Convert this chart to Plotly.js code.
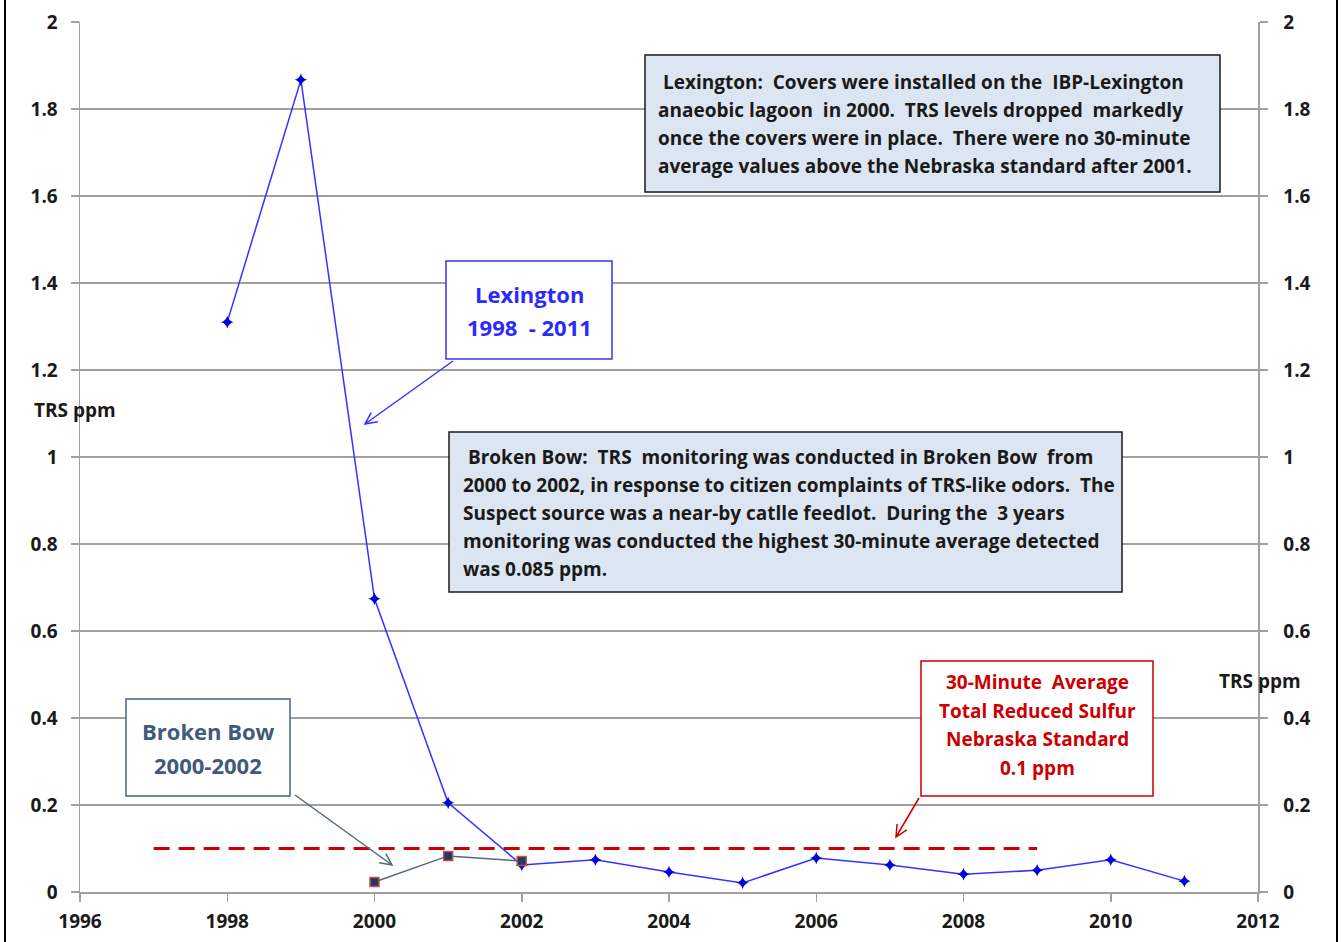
<!DOCTYPE html>
<html>
<head>
<meta charset="utf-8">
<script src="https://cdn.plot.ly/plotly-3.0.1.min.js"></script>
<style>html,body{margin:0;padding:0;background:#fff;}#chart{width:1341px;height:942px;}</style>
</head>
<body>
<div id="chart"></div>
<script>
// ---- data ----
const lexYears = [1998,1999,2000,2001,2002,2003,2004,2005,2006,2007,2008,2009,2010,2011];
const lexTRS   = [1.310,1.867,0.674,0.205,0.062,0.074,0.046,0.021,0.078,0.062,0.041,0.050,0.074,0.025];
const bbYears  = [2000,2001,2002];
const bbTRS    = [0.023,0.083,0.071];
const stdYears = [1997,2009];
const stdTRS   = [0.1,0.1];
const xTicks   = [1996,1998,2000,2002,2004,2006,2008,2010,2012];
const yTicks   = [0,0.2,0.4,0.6,0.8,1,1.2,1.4,1.6,1.8,2];

// ---- layout geometry helpers (pixel -> paper) ----
const W=1341,H=942,L=80,R=83,T=22,B=50;
const PW=W-L-R, PH=H-T-B;
const px=v=>(v-L)/PW, py=v=>(H-B-v)/PH;

const FONT='"Open Sans", Lato, sans-serif';
const shapes=[], annotations=[];

function box(x0,y0,x1,y1,fill,line){
  shapes.push({type:'rect',xref:'paper',yref:'paper',x0:px(x0),x1:px(x1),y0:py(y1),y1:py(y0),
    fillcolor:fill,line:{color:line,width:1.5},layer:'above'});
}
function txt(x,y,t,size,color,anchor){
  annotations.push({xref:'paper',yref:'paper',x:px(x),y:py(y),text:t,showarrow:false,
    xanchor:anchor||'left',yanchor:'middle',font:{family:FONT,size:size,color:color,weight:'bold'}});
}
function arrow(tx,ty,hx,hy,color){
  const ang=Math.atan2(ty-hy,tx-hx), len=13, spread=0.45;
  const a1=[hx+len*Math.cos(ang+spread),hy+len*Math.sin(ang+spread)];
  const a2=[hx+len*Math.cos(ang-spread),hy+len*Math.sin(ang-spread)];
  const P=(x,y)=>px(x)+','+py(y);
  shapes.push({type:'path',xref:'paper',yref:'paper',layer:'above',line:{color:color,width:1.5},
    path:'M'+P(tx,ty)+' L'+P(hx,hy)+' M'+P(a1[0],a1[1])+' L'+P(hx,hy)+' L'+P(a2[0],a2[1])});
}

// outer frame lines
shapes.push({type:'line',xref:'paper',yref:'paper',x0:px(5),x1:px(5),y0:py(942),y1:py(0),line:{color:'#000',width:2}});
shapes.push({type:'line',xref:'paper',yref:'paper',x0:px(1337),x1:px(1337),y0:py(942),y1:py(0),line:{color:'#000',width:2}});

// Covers text box
box(645,55,1220,192,'#dce6f2','#1a1a1a');
const coverLines=[' Lexington:  Covers were installed on the  IBP-Lexington',
 'anaeobic lagoon  in 2000.  TRS levels dropped  markedly',
 'once the covers were in place.  There were no 30-minute',
 'average values above the Nebraska standard after 2001.'];
coverLines.forEach((s,i)=>txt(656,82+28*i,s,19,'#1a1a1a'));

// Broken Bow description box
box(449,432,1122,592,'#dce6f2','#1a1a1a');
const bbLines=[' Broken Bow:  TRS  monitoring was conducted in Broken Bow  from',
 '2000 to 2002, in response to citizen complaints of TRS-like odors.  The',
 'Suspect source was a near-by catlle feedlot.  During the  3 years',
 'monitoring was conducted the highest 30-minute average detected',
 'was 0.085 ppm.'];
bbLines.forEach((s,i)=>txt(461,457+28*i,s,19,'#1a1a1a'));

// Red standard box
box(921,661,1153,796,'#ffffff','#cc0000');
['30-Minute  Average','Total Reduced Sulfur','Nebraska Standard','0.1 ppm']
  .forEach((s,i)=>txt(1037,682+28.5*i,s,19,'#cc0000','center'));

// Lexington label
box(446,261,612,359,'#ffffff','#3333ff');
['Lexington','1998  - 2011'].forEach((s,i)=>txt(529,294+33*i,s,22,'#2a2aff','center'));

// Broken Bow label
box(126,699,290,796,'#ffffff','#4a6380');
['Broken Bow','2000-2002'].forEach((s,i)=>txt(208,731+34*i,s,22,'#3f5a7a','center'));

// arrows
arrow(453,361,365,424,'#3333ff');
arrow(295,795,392,865,'#55687c');
arrow(919,798,896,837,'#cc0000');

// axis titles
txt(75,410,'TRS ppm',19,'#1a1a1a','center');
txt(1260,681,'TRS ppm',19,'#1a1a1a','center');

const tickFont={family:FONT,size:19,color:'#1a1a1a',weight:'bold'};
const traces=[
  {x:stdYears,y:stdTRS,type:'scatter',mode:'lines',line:{color:'#cc0000',width:3,dash:'16px,9px'},hoverinfo:'skip'},
  {x:lexYears,y:lexTRS,type:'scatter',mode:'lines+markers',line:{color:'#3333ff',width:1.5},
   marker:{symbol:'star-diamond',size:9,color:'#0000dd'}},
  {x:bbYears,y:bbTRS,type:'scatter',mode:'lines+markers',line:{color:'#55687c',width:1.5},
   marker:{symbol:'square',size:9,color:'#1f3864',line:{color:'#c0504d',width:1.5}}},
  {x:[xTicks[0]],y:[yTicks[0]],yaxis:'y2',type:'scatter',mode:'markers',marker:{opacity:0},hoverinfo:'skip'}
];

const layout={
  width:W,height:H,margin:{l:L,r:R,t:T,b:B},
  paper_bgcolor:'#fff',plot_bgcolor:'#fff',showlegend:false,
  font:{family:FONT},
  xaxis:{range:[1996,2012],tickmode:'array',tickvals:xTicks,ticktext:xTicks.map(String),
    showgrid:false,zeroline:false,showline:true,linecolor:'#a0a0a0',linewidth:1.5,
    ticks:'outside',ticklen:8,tickcolor:'#a0a0a0',tickwidth:1.5,tickfont:tickFont,ticklabelstandoff:4},
  yaxis:{range:[0,2],tickmode:'array',tickvals:yTicks,ticktext:yTicks.map(String),
    showgrid:true,gridcolor:'#a0a0a0',gridwidth:1.5,zeroline:false,showline:true,linecolor:'#a0a0a0',linewidth:1.5,
    ticks:'outside',ticklen:8,tickcolor:'#a0a0a0',tickwidth:1.5,tickfont:tickFont,ticklabelstandoff:9},
  yaxis2:{range:[0,2],overlaying:'y',side:'right',tickmode:'array',tickvals:yTicks,ticktext:yTicks.map(String),
    showgrid:false,zeroline:false,showline:true,linecolor:'#a0a0a0',linewidth:1.5,
    ticks:'outside',ticklen:8,tickcolor:'#a0a0a0',tickwidth:1.5,tickfont:tickFont,ticklabelstandoff:12},
  shapes:shapes,annotations:annotations
};
Plotly.newPlot('chart',traces,layout,{displayModeBar:false,staticPlot:true});
</script>
</body>
</html>
